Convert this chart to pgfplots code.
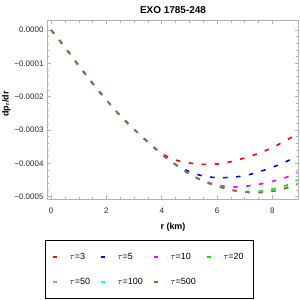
\documentclass[border=0pt]{standalone}
\usepackage{pgfplots}
\pgfplotsset{compat=1.18}
\usepackage{fontspec}
\setmainfont{Liberation Sans}
\definecolor{cRed}{RGB}{255,0,0}
\definecolor{cBlue}{RGB}{0,0,255}
\definecolor{cMag}{RGB}{255,0,255}
\definecolor{cGreen}{RGB}{0,235,0}
\definecolor{cPink}{RGB}{255,128,128}
\definecolor{cCyan}{RGB}{0,255,255}
\definecolor{cBrown}{RGB}{153,102,51}
\begin{document}
\begin{tikzpicture}
\begin{axis}[
 at={(47bp,101bp)}, anchor=south west,
 scale only axis, width=251bp, height=178.3bp,
 xmin=-0.15, xmax=8.93, ymin=-0.000507, ymax=0.000028,
 xtick={0,2,4,6,8}, xticklabels={0,2,4,6,8},
 ytick={-0.0005,-0.0004,-0.0003,-0.0002,-0.0001,0},
 yticklabels={−0.0005,−0.0004,−0.0003,−0.0002,−0.0001,0.0000},
 minor x tick num=3, minor y tick num=4,
 scaled y ticks=false, scaled x ticks=false,
 tick align=inside,
 major tick length=3.5bp, minor tick length=2bp,
 axis line style={gray!60, line width=0.6bp},
 every tick/.style={gray!60, line width=0.5bp},
 tick label style={font=\fontsize{8}{9}\selectfont, text=black!85},
 xticklabel style={yshift=-5bp},
 legend columns=4,
 legend cell align=left,
 legend style={at={(0.408,-0.23)}, anchor=north, draw=black, line width=0.9bp,
   font=\fontsize{9}{11}\selectfont, inner xsep=7bp, inner ysep=4bp,
   nodes={text height=6.5bp, text depth=0.5bp, inner ysep=9bp, inner xsep=3bp},
   /tikz/every odd column/.append style={column sep=0bp},
   /tikz/every even column/.append style={column sep=7bp}},
 legend image code/.code={\draw[#1,solid,line width=1.6bp] (0bp,0bp) -- (4bp,0bp); \path (0bp,0bp) -- (13bp,0bp);},
 every axis plot/.append style={line width=1.6bp, dash pattern=on 4.5bp off 8.5bp, smooth, tension=0.5},
]
\addplot[cRed] coordinates {(0,0) (0.5,-0.000052) (1.0,-0.000107) (1.5,-0.00016) (2.0,-0.00021) (2.5,-0.000257) (3.0,-0.000298) (3.5,-0.000336) (4.0,-0.00037) (4.5,-0.00039) (5.0,-0.000399) (5.5,-0.000403) (6.0,-0.000402) (6.5,-0.000395) (7.0,-0.000384) (7.5,-0.00037) (8.0,-0.000353) (8.5,-0.000331) (8.9,-0.000312)};
\addlegendentry{$\tau$=3}
\addplot[cBlue] coordinates {(0,0) (0.5,-0.000052) (1.0,-0.000107) (1.5,-0.00016) (2.0,-0.00021) (2.5,-0.000257) (3.0,-0.000298) (3.5,-0.000336) (4.0,-0.000372) (4.5,-0.000403) (5.0,-0.000425) (5.5,-0.000438) (6.0,-0.000443) (6.5,-0.000442) (7.0,-0.000437) (7.5,-0.000426) (8.0,-0.000412) (8.5,-0.000395) (8.9,-0.000378)};
\addlegendentry{$\tau$=5}
\addplot[cMag] coordinates {(0,0) (0.5,-0.000052) (1.0,-0.000107) (1.5,-0.00016) (2.0,-0.00021) (2.5,-0.000257) (3.0,-0.000298) (3.5,-0.000336) (4.0,-0.000373) (4.5,-0.000404) (5.0,-0.000432) (5.5,-0.000452) (6.0,-0.000465) (6.5,-0.000471) (7.0,-0.000469) (7.5,-0.000463) (8.0,-0.000454) (8.5,-0.000442) (8.9,-0.000428)};
\addlegendentry{$\tau$=10}
\addplot[cGreen] coordinates {(0,0) (0.5,-0.000052) (1.0,-0.000107) (1.5,-0.00016) (2.0,-0.00021) (2.5,-0.000257) (3.0,-0.000298) (3.5,-0.000336) (4.0,-0.000373) (4.5,-0.000404) (5.0,-0.000432) (5.5,-0.000453) (6.0,-0.000468) (6.5,-0.000479) (7.0,-0.000484) (7.5,-0.000484) (8.0,-0.000477) (8.5,-0.000466) (8.9,-0.00045)};
\addlegendentry{$\tau$=20}
\addplot[cPink] coordinates {(0,0) (0.5,-0.000052) (1.0,-0.000107) (1.5,-0.00016) (2.0,-0.00021) (2.5,-0.000257) (3.0,-0.000298) (3.5,-0.000336) (4.0,-0.000373) (4.5,-0.000404) (5.0,-0.000432) (5.5,-0.000453) (6.0,-0.000468) (6.5,-0.00048) (7.0,-0.000486) (7.5,-0.000487) (8.0,-0.000482) (8.5,-0.000472) (8.9,-0.00046)};
\addlegendentry{$\tau$=50}
\addplot[cCyan] coordinates {(0,0) (0.5,-0.000052) (1.0,-0.000107) (1.5,-0.00016) (2.0,-0.00021) (2.5,-0.000257) (3.0,-0.000298) (3.5,-0.000336) (4.0,-0.000373) (4.5,-0.000404) (5.0,-0.000432) (5.5,-0.000453) (6.0,-0.000468) (6.5,-0.00048) (7.0,-0.000486) (7.5,-0.000487) (8.0,-0.000483) (8.5,-0.000474) (8.9,-0.000462)};
\addlegendentry{$\tau$=100}
\addplot[cBrown] coordinates {(0,0) (0.5,-0.000052) (1.0,-0.000107) (1.5,-0.00016) (2.0,-0.00021) (2.5,-0.000257) (3.0,-0.000298) (3.5,-0.000336) (4.0,-0.000373) (4.5,-0.000404) (5.0,-0.000432) (5.5,-0.000453) (6.0,-0.000468) (6.5,-0.00048) (7.0,-0.000486) (7.5,-0.000488) (8.0,-0.000484) (8.5,-0.000475) (8.9,-0.000464)};
\addlegendentry{$\tau$=500}
\end{axis}
\node[anchor=base, font=\bfseries\fontsize{10}{12}\selectfont] at (173bp,286.7bp) {EXO 1785-248};
\node[anchor=base, font=\bfseries\fontsize{9}{11}\selectfont] at (173bp,70bp) {r (km)};
\node[anchor=base, rotate=90, font=\bfseries\fontsize{9}{11}\selectfont] at (8.5bp,196bp) {dp\textsubscript{r}/dr};
\pgfresetboundingbox
\path[use as bounding box] (0,0) rectangle (300bp,300bp);
\end{tikzpicture}
\end{document}
